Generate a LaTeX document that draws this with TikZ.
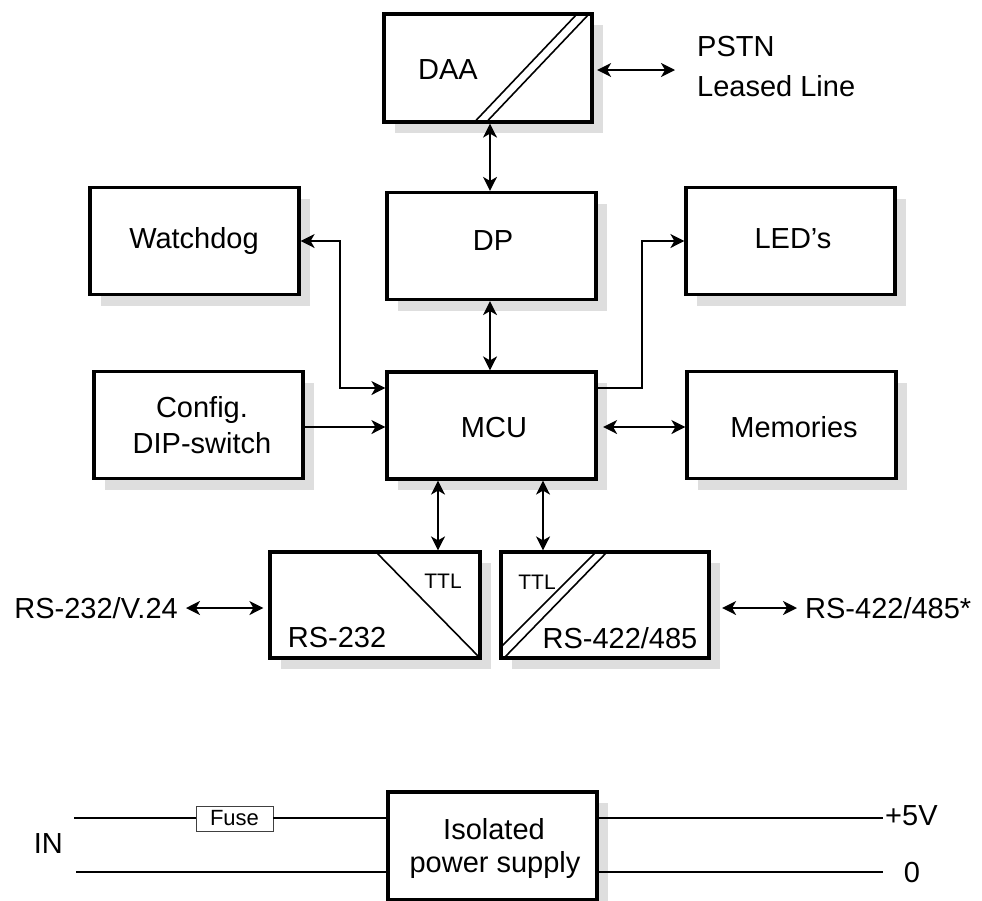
\documentclass[tikz,border=0pt]{standalone}
\usepackage{fontspec}
\setmainfont{Liberation Sans}
\usetikzlibrary{arrows.meta,shadows,calc}
\definecolor{shade}{gray}{0.87}
\newcommand{\lblfont}{\fontsize{29}{34}\selectfont}
\newcommand{\smallfnt}{\fontsize{21}{25}\selectfont}
\begin{document}
\begin{tikzpicture}[x=1pt,y=-1pt,
  box/.style={draw, line width=3.2pt, fill=white, rectangle, inner sep=0pt,
    minimum width=209pt, minimum height=107pt,
    drop shadow={shadow xshift=11pt, shadow yshift=-11pt, opacity=1, fill=shade}},
  lbl/.style={inner sep=0pt, font=\lblfont},
  small/.style={inner sep=0pt, font=\smallfnt},
  conn/.style={line width=1.8pt},
  biarrow/.style={conn, {Stealth[length=14pt,width=14pt,inset=4pt]}-{Stealth[length=14pt,width=14pt,inset=4pt]}},
  onearrow/.style={conn, -{Stealth[length=14pt,width=14pt,inset=4pt]}},
  wire/.style={line width=1.7pt},
  diag/.style={line width=1.6pt}
]
\useasboundingbox (0,0) rectangle (982,900);
\fill[white] (0,0) rectangle (982,900);

% boxes
\node[box, minimum width=208pt, minimum height=108pt] (daa) at (488,68) {};
\node[box] (dp) at (491.5,246) {};
\node[box] (mcu) at (491.5,425.5) {};
\node[box] (wd) at (194.5,241) {};
\node[box] (cfg) at (198.5,425) {};
\node[box] (led) at (790.5,241) {};
\node[box] (mem) at (791.5,425) {};
\node[box, minimum width=210pt, minimum height=106pt] (rsa) at (375,605) {};
\node[box, minimum width=208pt, minimum height=106pt] (rsb) at (605,605) {};
\node[box, minimum height=108pt] (psu) at (492.5,846) {};

% diagonals
\draw[diag] (474.5,122) -- (577,14);
\draw[diag] (486.5,122) -- (589,14);
\draw[diag] (376,552) -- (480,658);
\draw[diag] (501,647) -- (596,552);
\draw[diag] (504,658) -- (607,552);

% texts
\node[lbl, anchor=base] (tdaa) at (448,79) {DAA};
\node[lbl, anchor=base west] (tpstn) at (697,56) {PSTN};
\node[lbl, anchor=base west] (tleased) at (697,96) {Leased Line};
\node[lbl, anchor=base] (tdp) at (493,250) {DP};
\node[lbl, anchor=base] (twd) at (194,248) {Watchdog};
\node[lbl, anchor=base] (tled) at (793,248) {LED’s};
\node[lbl, anchor=base] (tmcu) at (494,437) {MCU};
\node[lbl, anchor=base] (tcfg) at (202,417) {Config.};
\node[lbl, anchor=base] (tdip) at (202,453) {DIP-switch};
\node[lbl, anchor=base] (tmem) at (794,437) {Memories};
\node[lbl, anchor=base] (trsa) at (337,647) {RS-232};
\node[small, anchor=base] (tttla) at (443,588) {TTL};
\node[lbl, anchor=base] (trsb) at (620,648) {RS-422/485};
\node[small, anchor=base] (tttlb) at (537,589) {TTL};
\node[lbl, anchor=base east] (tv24) at (178,618) {RS-232/V.24};
\node[lbl, anchor=base west] (t485) at (805,618) {RS-422/485*};
\node[lbl, anchor=base] (tiso) at (494,839) {Isolated};
\node[lbl, anchor=base] (tpow) at (495,872) {power supply};
\node[lbl, anchor=base west] (t5v) at (885,825) {+5V};
\node[lbl, anchor=base] (t0) at (912,882) {0};
\node[lbl, anchor=base east] (tin) at (63,853) {IN};

% helper coordinates
\coordinate (x490) at (490,0);
\coordinate (x438) at (438,0);
\coordinate (x543) at (543,0);
\coordinate (y70) at (0,70);
\coordinate (y427) at (0,427);
\coordinate (pstnend) at (675,70);
\coordinate (wdA) at (340,388);
\coordinate (wdB) at (340,241);
\coordinate (ledA) at (642,388);
\coordinate (ledB) at (642,241);
\coordinate (v24end) at (186,608);
\coordinate (r485end) at (797,608);
\coordinate (in1) at (74,818);
\coordinate (in2) at (76,872);
\coordinate (out1) at (883,818);
\coordinate (out2) at (883,872);

% connectors
\draw[biarrow] ($(daa.east |- y70)+(3.5,0)$) -- (pstnend);
\draw[biarrow] (daa.south -| x490) -- (dp.north -| x490);
\draw[biarrow] (dp.south -| x490) -- (mcu.north -| x490);
\draw[biarrow] (mcu.west |- wdA) -- (wdA) -- (wdB) -- (wd.east |- wdB);
\draw[onearrow] (cfg.east |- y427) -- (mcu.west |- y427);
\draw[onearrow] (mcu.east |- ledA) -- (ledA) -- (ledB) -- (led.west |- ledB);
\draw[biarrow] ($(mcu.east |- y427)+(5.5,0)$) -- (mem.west |- y427);
\draw[biarrow] (mcu.south -| x438) -- (rsa.north -| x438);
\draw[biarrow] (mcu.south -| x543) -- (rsb.north -| x543);
\draw[biarrow] (v24end) -- ($(rsa.west |- v24end)+(-5,0)$);
\draw[biarrow] ($(rsb.east |- r485end)+(11.5,0)$) -- (r485end);

% power
\node[draw=black!75, line width=0.9pt, fill=white, inner sep=0pt, minimum width=77pt, minimum height=25pt, font=\fontsize{22}{26}\selectfont] (fuse) at (234.5,818.5) {Fuse};
\draw[wire] (in1) -- (fuse.west |- in1);
\draw[wire] (fuse.east |- in1) -- (psu.west |- in1);
\draw[wire] (in2) -- (psu.west |- in2);
\draw[wire] (psu.east |- out1) -- (out1);
\draw[wire] (psu.east |- out2) -- (out2);
\end{tikzpicture}
\end{document}
